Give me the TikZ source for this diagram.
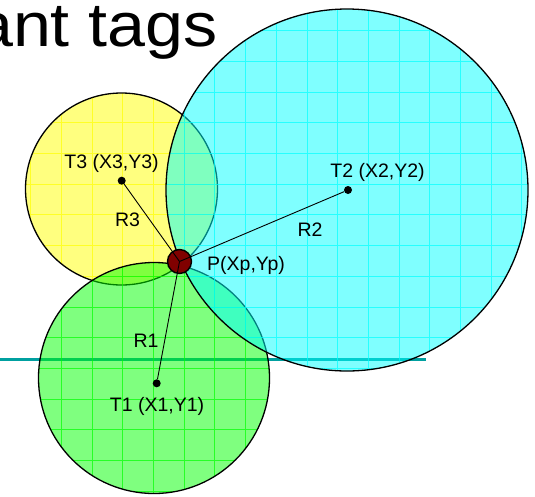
\documentclass[tikz,border=0pt]{standalone}
\usepackage{fontspec}
\setmainfont{Liberation Sans}
\usepackage{tikz}
\usetikzlibrary{positioning,calc}

\definecolor{wallteal}{RGB}{0,160,160}
\definecolor{posred}{RGB}{128,0,0}
\definecolor{tagyellow}{RGB}{255,255,0}
\definecolor{taggreen}{RGB}{0,255,0}
\definecolor{tagcyan}{RGB}{0,255,255}

\tikzset{
  tagzone/.style={draw=black, line width=1.3pt},
  tagdot/.style={circle, fill=black, inner sep=0pt, minimum size=8pt},
  posdot/.style={circle, draw=black, line width=1.4pt, fill=posred, inner sep=0pt, minimum size=24pt},
  rangeline/.style={line width=0.9pt},
  lbl/.style={font=\fontsize{19.5}{22}\selectfont, inner sep=0pt}
}

\begin{document}
\begin{tikzpicture}[x=1pt, y=-1pt]
    \useasboundingbox (0,0) rectangle (535,496);
    % heading (cut by the page)
    \node[anchor=base east, font=\fontsize{62}{70}\selectfont, inner sep=0pt] (title) at (218,46.5) {\scalebox{1.1}[1]{ant tags}};
    % wall
    \draw[wallteal, line width=3pt] (0,359) -- (426,359);
    % ranges of the tags
    \coordinate (c3) at (121.5,189);
    \coordinate (c1) at (154,378);
    \coordinate (c2) at (347,190);
    \foreach \c/\r/\col in {c3/96/tagyellow, c1/115.5/taggreen, c2/181/tagcyan} {
      \fill[\col, fill opacity=0.5] (\c) circle (\r pt);
      \begin{scope}
        \clip (\c) circle (\r pt);
        \draw[\col, opacity=0.7, line width=0.9pt, step=30.7pt] ($(\c)+(-200,-200)$) grid ($(\c)+(200,200)$);
      \end{scope}
      \draw[tagzone] (\c) circle (\r pt);
    }
    % tags and position
    \node[tagdot] (t3) at (121.7,180.7) {};
    \node[tagdot] (t2) at (348,190) {};
    \node[tagdot] (t1) at (156.7,383.3) {};
    \node[posdot] (p) at (179.5,261.5) {};
    \draw[rangeline] (t3) -- (p.center);
    \draw[rangeline] (t2) -- (p.center);
    \draw[rangeline] (t1) -- (p.center);
    % labels
    \node[lbl] (t3lbl) at (111.5,163) {T3 (X3,Y3)};
    \node[lbl] (t2lbl) at (377.5,172.5) {T2 (X2,Y2)};
    \node[lbl] (t1lbl) at (157,406) {T1 (X1,Y1)};
    \node[lbl] (plbl) at (246,265) {P(Xp,Yp)};
    \node[lbl] (r3lbl) at (127.5,220) {R3};
    \node[lbl] (r2lbl) at (310,229.5) {R2};
    \node[lbl] (r1lbl) at (146,340.5) {R1};
\end{tikzpicture}
\end{document}
